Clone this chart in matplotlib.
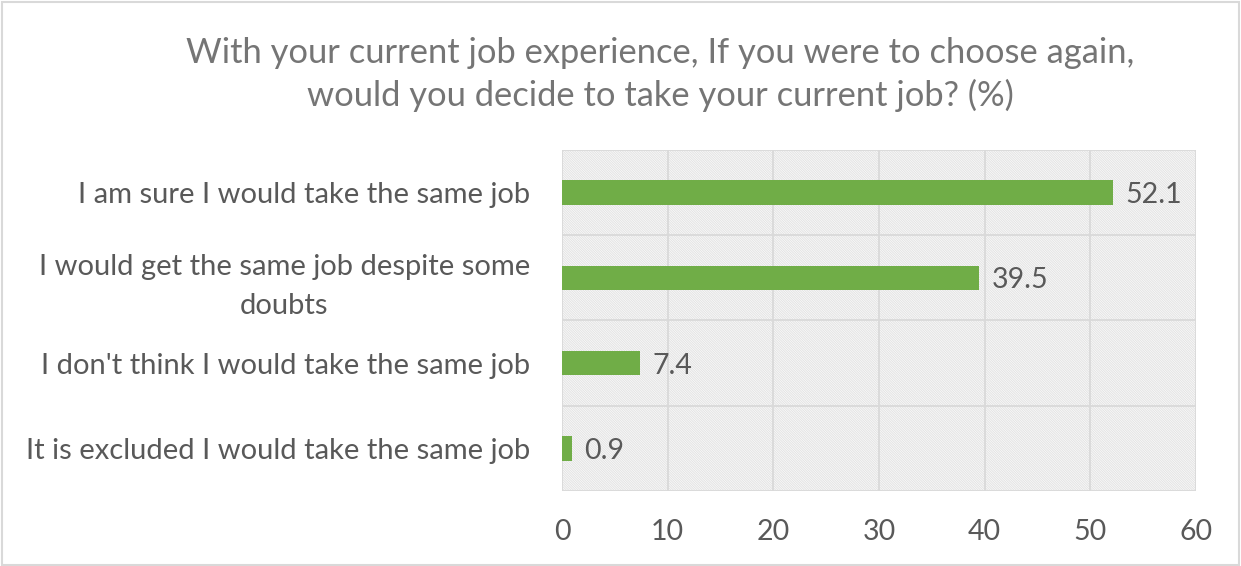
import matplotlib.pyplot as plt
from matplotlib.patches import Rectangle

plt.rcParams["font.family"] = ["Lato", "DejaVu Sans"]
plt.rcParams["hatch.linewidth"] = 0.8

TITLE = "With your current job experience, If you were to choose again,\nwould you decide to take your current job? (%)"
CATEGORIES = [
    "I am sure I would take the same job",
    "I would get the same job despite some\ndoubts",
    "I don't think I would take the same job",
    "It is excluded I would take the same job",
]
VALUES = [52.1, 39.5, 7.4, 0.9]
X_TICKS = [0, 10, 20, 30, 40, 50, 60]

BAR_COLOR = "#70ad47"
GRID_COLOR = "#d9d9d9"
TEXT_COLOR = "#595959"

fig = plt.figure(figsize=(12.41, 5.66), dpi=100)
ax = fig.add_axes([0.4529, 0.1325, 0.5109, 0.6025])

# hatched plot-area background
ax.add_patch(Rectangle((0, 0), 1, 1, transform=ax.transAxes, facecolor="white",
                       edgecolor="#e4e4e4", hatch="\\" * 14, linewidth=0, zorder=0))

y = list(range(len(CATEGORIES)))[::-1]
ax.barh(y, VALUES, height=0.29, color=BAR_COLOR, zorder=3)
for yi, v in zip(y, VALUES):
    ax.text(v + 1.2, yi - 0.03, f"{v}", va="center", ha="left", fontsize=20.5,
            color=TEXT_COLOR, zorder=4)

ax.set_xlim(0, 60)
ax.set_ylim(-0.5, len(CATEGORIES) - 0.5)
ax.set_xticks(X_TICKS)
ax.set_xticklabels([str(t) for t in X_TICKS], fontsize=20.5, color=TEXT_COLOR)
ax.set_yticks(y)
ax.set_yticklabels(CATEGORIES, fontsize=21, color=TEXT_COLOR, linespacing=1.6)
for lbl in ax.get_yticklabels():
    lbl.set_multialignment("center")
ax.tick_params(axis="both", length=0)
ax.tick_params(axis="x", pad=20)
ax.tick_params(axis="y", pad=23)

# gridlines: vertical at every tick, horizontal between categories
for t in X_TICKS:
    ax.axvline(t, color=GRID_COLOR, linewidth=1.3, zorder=1)
for b in [-0.5, 0.5, 1.5, 2.5, 3.5]:
    ax.axhline(b, color=GRID_COLOR, linewidth=1.3, zorder=1)
for s in ax.spines.values():
    s.set_visible(False)

fig.text(0.532, 0.868, TITLE, ha="center", va="center", fontsize=24.8,
         color="#757575", linespacing=1.38)

# chart border
fig.add_artist(Rectangle((0.002, 0.002), 0.996, 0.994, transform=fig.transFigure,
                         fill=False, edgecolor=GRID_COLOR, linewidth=1.5))

fig.savefig("out.png", dpi=100)
